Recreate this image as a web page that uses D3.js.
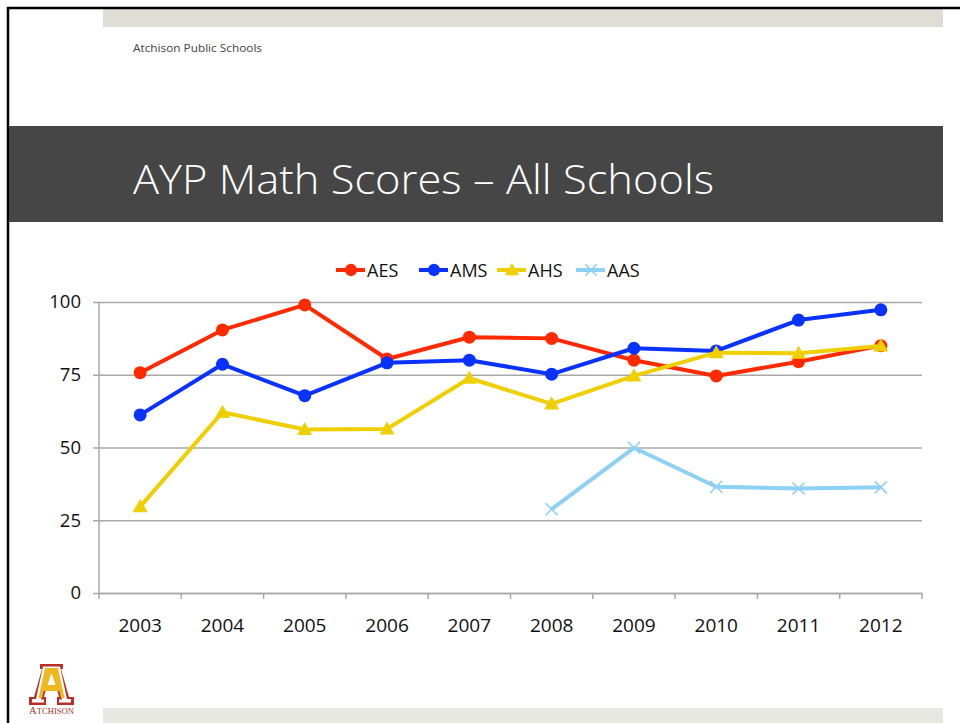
<!DOCTYPE html>
<html>
<head>
<meta charset="utf-8">
<script src="https://cdn.jsdelivr.net/npm/d3@7"></script>
<style>
  body { margin: 0; background: #fff; }
  svg { display: block; }
</style>
</head>
<body>
<div id="chart"></div>
<script>
// chart data
const years = ["2003", "2004", "2005", "2006", "2007", "2008", "2009", "2010", "2011", "2012"];
const aes = [75.7, 90.4, 99, 80.4, 87.9, 87.5, 80, 74.6, 79.5, 85];
const ams = [61.2, 78.6, 67.8, 79.1, 80, 75.2, 84.1, 83.2, 93.8, 97.3];
const ahs = [29.7, 62.1, 56.2, 56.4, 73.8, 65, 74.6, 82.6, 82.4, 84.9];
const aas = [null, null, null, null, null, 28.8, 49.9, 36.5, 35.9, 36.3];
const yTicks = [0, 25, 50, 75, 100];

const series = [
  { name: "AES", values: aes, color: "#ff2a00", marker: "circle" },
  { name: "AMS", values: ams, color: "#0a32ff", marker: "circle" },
  { name: "AHS", values: ahs, color: "#efcf00", marker: "triangle" },
  { name: "AAS", values: aas, color: "#8fd0f5", marker: "cross" }
];

const W = 960, H = 723;
const font = "'Open Sans', 'DejaVu Sans', sans-serif";

const svg = d3.select("#chart")
  .append("svg")
  .attr("width", W)
  .attr("height", H);

// slide frame
svg.append("rect").attr("x", 0).attr("y", 0).attr("width", W).attr("height", H).attr("fill", "#fff");
svg.append("rect").attr("x", 103).attr("y", 9).attr("width", 840).attr("height", 18).attr("fill", "#deded6");
svg.append("rect").attr("x", 103).attr("y", 708).attr("width", 840).attr("height", 15).attr("fill", "#e8e8e2");
svg.append("line").attr("x1", 7).attr("x2", W).attr("y1", 8).attr("y2", 8)
  .attr("stroke", "#000").attr("stroke-width", 2.5);
svg.append("line").attr("x1", 8).attr("x2", 8).attr("y1", 7).attr("y2", H)
  .attr("stroke", "#000").attr("stroke-width", 2.5);

svg.append("text")
  .attr("x", 133).attr("y", 52)
  .attr("font-family", font).attr("font-size", 11.5)
  .attr("textLength", 129).attr("lengthAdjust", "spacingAndGlyphs")
  .attr("fill", "#444")
  .text("Atchison Public Schools");

// title band
svg.append("rect").attr("x", 9).attr("y", 126).attr("width", 934).attr("height", 96).attr("fill", "#464646");
svg.append("text")
  .attr("x", 133).attr("y", 194)
  .attr("font-family", font).attr("font-size", 40).attr("font-weight", 300)
  .attr("textLength", 581).attr("lengthAdjust", "spacingAndGlyphs")
  .attr("fill", "#fff")
  .text("AYP Math Scores \u2013 All Schools");

// scales
const x = d3.scaleBand().domain(years).range([99, 922]).padding(0);
const y = d3.scaleLinear().domain([0, 100]).range([593, 302]);
const cx = d => x(d) + x.bandwidth() / 2;

// gridlines + y axis
const yAxis = d3.axisLeft(y).tickValues(yTicks).tickSize(-(922 - 99)).tickPadding(18);
const gy = svg.append("g").attr("transform", "translate(99,0)").call(yAxis);
gy.select(".domain").remove();
gy.selectAll(".tick line").attr("stroke", "#a8a8a8").attr("stroke-width", 1.5).attr("x1", -6);
gy.selectAll(".tick text")
  .attr("font-family", font).attr("font-size", 18.5).attr("fill", "#111");

svg.append("line").attr("x1", 99).attr("x2", 99).attr("y1", 302).attr("y2", 593)
  .attr("stroke", "#a8a8a8").attr("stroke-width", 1.5);

// x axis with ticks at category boundaries
const xAxis = d3.axisBottom(x).tickSize(0).tickPadding(26);
const gx = svg.append("g").attr("transform", "translate(0,593)").call(xAxis);
gx.select(".domain").attr("stroke", "#a8a8a8").attr("stroke-width", 1.5);
gx.selectAll(".tick text")
  .attr("font-family", font).attr("font-size", 19).attr("fill", "#111");
const bounds = years.map(d => x(d)).concat([x.range()[1]]);
gx.selectAll(".bound").data(bounds).enter().append("line")
  .attr("x1", d => d).attr("x2", d => d).attr("y1", 0).attr("y2", 6)
  .attr("stroke", "#a8a8a8").attr("stroke-width", 1.5);

// lines
const line = d3.line()
  .defined(d => d.v != null)
  .x(d => cx(d.year))
  .y(d => y(d.v));

function drawMarker(g, type, color, px, py, s) {
  if (type === "circle") {
    g.append("circle").attr("cx", px).attr("cy", py).attr("r", 6.5 * s).attr("fill", color);
  } else if (type === "triangle") {
    const r = 7.5 * s;
    g.append("path")
      .attr("d", `M${px},${py - r}L${px + r},${py + r * 0.75}L${px - r},${py + r * 0.75}Z`)
      .attr("fill", color);
  } else {
    const r = 6 * s;
    g.append("path")
      .attr("d", `M${px - r},${py - r}L${px + r},${py + r}M${px - r},${py + r}L${px + r},${py - r}`)
      .attr("stroke", color).attr("stroke-width", 1.6).attr("fill", "none");
  }
}

series.forEach(s => {
  const pts = years.map((yr, i) => ({ year: yr, v: s.values[i] }));
  const g = svg.append("g");
  g.append("path")
    .datum(pts)
    .attr("d", line)
    .attr("fill", "none")
    .attr("stroke", s.color)
    .attr("stroke-width", 4)
    .attr("stroke-linejoin", "round");
  pts.filter(d => d.v != null).forEach(d => drawMarker(g, s.marker, s.color, cx(d.year), y(d.v), 1));
});

// legend
const legendX = [336, 419, 497, 576];
const lg = svg.append("g");
series.forEach((s, i) => {
  const lx = legendX[i], ly = 270;
  lg.append("line").attr("x1", lx).attr("x2", lx + 29).attr("y1", ly).attr("y2", ly)
    .attr("stroke", s.color).attr("stroke-width", 4);
  drawMarker(lg, s.marker, s.color, lx + 15, ly, 0.95);
  lg.append("text")
    .attr("x", lx + 31).attr("y", ly + 7)
    .attr("font-family", font).attr("font-size", 18).attr("fill", "#111")
    .text(s.name);
});

// school logo
const logo = svg.append("g").attr("transform", "translate(28,664)");
const aOuter = "M12,0H35V5H33L41,33H46V41H29V33H31L29.5,27H17.5L16,33H18V41H1V33H6L14,5H12Z";
logo.append("path").attr("d", aOuter).attr("fill", "#b9302a");
logo.append("path")
  .attr("d", "M15,2.5H32L39,35H43V38.5H31V35.5H34L31.5,24.5H15.5L13,35.5H16V38.5H4V35H8Z")
  .attr("fill", "#fff");
logo.append("path")
  .attr("d", "M17,4H30L36.5,34H33L31.3,27H15.7L14,34H10.5ZM19.5,21H27.5L23.5,9Z")
  .attr("fill", "#efb81f").attr("fill-rule", "evenodd");
logo.append("text")
  .attr("x", 23.5).attr("y", 50)
  .attr("text-anchor", "middle")
  .attr("font-family", "'Liberation Serif', serif").attr("font-size", 8.5)
  .attr("textLength", 45).attr("lengthAdjust", "spacingAndGlyphs")
  .attr("fill", "#a3342b")
  .html('<tspan font-size="10.5">A</tspan>TCHISON');
</script>
</body>
</html>
